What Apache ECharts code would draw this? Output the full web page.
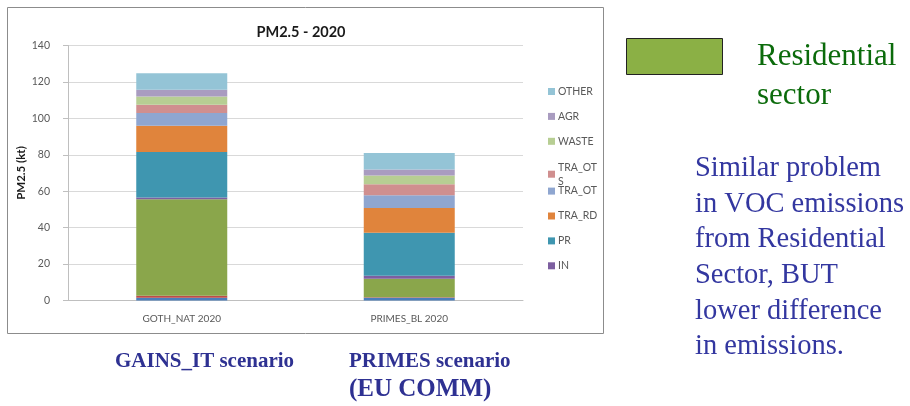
<!DOCTYPE html>
<html><head><meta charset="utf-8">
<script src="https://cdn.jsdelivr.net/npm/echarts@6/dist/echarts.min.js"></script>
<style>html,body{margin:0;padding:0;background:#fff}#c{width:910px;height:406px}</style>
</head><body><div id="c"></div>
<script>
const categories = ['GOTH_NAT 2020', 'PRIMES_BL 2020'];
const seriesNames = ['PP_EX', 'CON_COMB', 'DOM', 'IN', 'PR', 'TRA_RD', 'TRA_OT', 'TRA_OTS', 'WASTE', 'AGR', 'OTHER'];
const PP_EX    = [1.5, 1.5];
const CON_COMB = [1.1, 0.3];
const DOM      = [53.0, 10.2];
const IN       = [0.9, 1.6];
const PR       = [25.0, 23.6];
const TRA_RD   = [14.5, 13.6];
const TRA_OT   = [6.9, 7.0];
const TRA_OTS  = [4.6, 6.0];
const WASTE    = [4.5, 4.8];
const AGR      = [3.7, 3.3];
const OTHER    = [9.1, 9.1];
const seriesValues = [PP_EX, CON_COMB, DOM, IN, PR, TRA_RD, TRA_OT, TRA_OTS, WASTE, AGR, OTHER];
const colors = ['#4A7EBB', '#BE4B48', '#8AA64B', '#7D5FA0', '#3F96B0', '#E0843C', '#8FA6D0', '#D08F8F', '#B7CE93', '#A99CC0', '#94C4D6'];
const legendNames = ['OTHER', 'AGR', 'WASTE', 'TRA_OTS', 'TRA_OT', 'TRA_RD', 'PR', 'IN'];
const yTicks = [0, 20, 40, 60, 80, 100, 120, 140];

const chart = echarts.init(document.getElementById('c'));
const chartFont = 'Lato, "Open Sans", sans-serif';
const legends = legendNames.map((n, i) => ({
  data: [n],
  left: 543,
  top: 79.5 + i * 24.9,
  orient: 'vertical',
  itemWidth: 7,
  itemHeight: 7,
  icon: 'rect',
  selectedMode: false,
  formatter: nm => nm === 'TRA_OTS' ? 'TRA_OT\nS' : nm,
  textStyle: { fontFamily: chartFont, fontSize: 10.5, color: '#595959', padding: [0, 0, 0, -2], lineHeight: 14 }
}));
legends[3].top = 79.5 + 3 * 24.9 + 1;

const option = {
  animation: false,
  color: colors,
  title: {
    text: 'PM2.5 - 2020',
    left: 296, textAlign: 'center', top: 20,
    textStyle: { fontFamily: chartFont, fontSize: 14.5, fontWeight: 'bold', color: '#1a1a1a' }
  },
  legend: legends,
  grid: { left: 68, right: 387, top: 45.5, bottom: 105.5, containLabel: false },
  xAxis: {
    type: 'category', data: categories,
    axisLine: { lineStyle: { color: '#bfbfbf' } },
    axisTick: { length: 5, lineStyle: { color: '#bfbfbf' } },
    axisLabel: { fontFamily: chartFont, fontSize: 10, color: '#595959', margin: 13 }
  },
  yAxis: {
    type: 'value', min: 0, max: 140, interval: 20,
    name: 'PM2.5 (kt)', nameLocation: 'middle', nameGap: 41,
    nameTextStyle: { fontFamily: chartFont, fontSize: 11.5, fontWeight: 'bold', color: '#1a1a1a' },
    axisLine: { show: true, lineStyle: { color: '#bfbfbf' } },
    axisTick: { show: true, length: 5, lineStyle: { color: '#bfbfbf' } },
    splitLine: { lineStyle: { color: '#d9d9d9' } },
    axisLabel: { fontFamily: chartFont, fontSize: 10.5, color: '#595959', margin: 18,
      formatter: v => yTicks.includes(v) ? String(v) : '' }
  },
  series: seriesNames.map((n, i) => ({
    name: n, type: 'bar', stack: 'total', data: seriesValues[i],
    barWidth: '40%', itemStyle: { color: colors[i] }
  })),
  graphic: [
    { type: 'rect', shape: { x: 7.5, y: 7.5, width: 596, height: 326 }, style: { fill: 'none', stroke: '#8c8c8c', lineWidth: 1 }, z: -1 },
    { type: 'rect', shape: { x: 626.5, y: 38.5, width: 96, height: 36 }, style: { fill: '#8BB045', stroke: '#222', lineWidth: 1 } },
    { type: 'text', left: 757, top: 41, style: { text: 'Residential', font: '31px "Liberation Serif", serif', fill: '#0B6B0B' } },
    { type: 'text', left: 757, top: 80, style: { text: 'sector', font: '31px "Liberation Serif", serif', fill: '#0B6B0B' } },
    { type: 'text', left: 695, top: 151, style: { text: 'Similar problem\nin VOC emissions\nfrom Residential\nSector, BUT\nlower difference\nin emissions.', font: '28.5px "Liberation Serif", serif', lineHeight: 35.6, fill: '#3337A0' } },
    { type: 'text', left: 115, top: 351, style: { text: 'GAINS_IT scenario', font: 'bold 21px "Liberation Serif", serif', fill: '#2E3192' } },
    { type: 'text', left: 349, top: 351, style: { text: 'PRIMES scenario', font: 'bold 21px "Liberation Serif", serif', fill: '#2E3192' } },
    { type: 'text', left: 349, top: 377, style: { text: '(EU COMM)', font: 'bold 25px "Liberation Serif", serif', fill: '#2E3192' } }
  ]
};
chart.setOption(option);
</script></body></html>
